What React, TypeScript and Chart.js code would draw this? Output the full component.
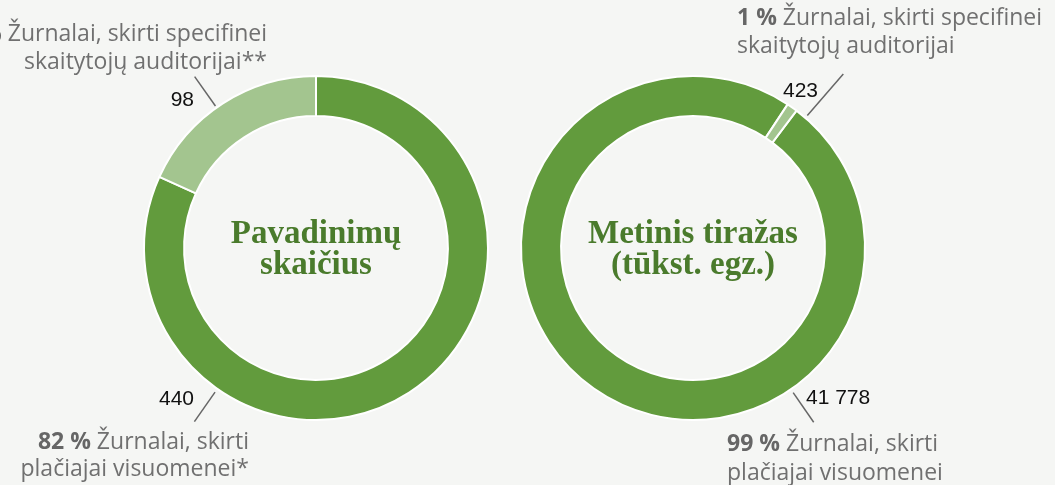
import React, { useEffect, useRef } from "react";
import { Chart, registerables } from "chart.js";

Chart.register(...registerables);

// ---- data ----
const categories = ["Žurnalai, skirti plačiajai visuomenei", "Žurnalai, skirti specifinei skaitytojų auditorijai"];
const titlesCount = [440, 98];
const circulation = [41778, 423];
const leftTitle = ["Pavadinimų", "skaičius"];
const rightTitle = ["Metinis tiražas", "(tūkst. egz.)"];
const leftLabels = [
  ["Žurnalai, skirti", "plačiajai visuomenei*"],
  ["Žurnalai, skirti specifinei", "skaitytojų auditorijai**"],
];
const rightLabels = [
  ["Žurnalai, skirti", "plačiajai visuomenei"],
  ["Žurnalai, skirti specifinei", "skaitytojų auditorijai"],
];

const colors = ["#629b3d", "#a3c58f"];
const BG = "#f5f6f4";
const LABEL_FONT = "'Open Sans'";
const LABEL_SIZE = 23;
const LABEL_COLOR = "#707070";

const fmt = (n: number) => String(n).replace(/\B(?=(\d{3})+(?!\d))/g, " ");

type Ann = {
  angle: number; r1: number; r2: number;
  val: { dx: number; dy: number; align: CanvasTextAlign };
  lab: { dx: number; dy: number; align: CanvasTextAlign; lh: number };
  lines: string[];
};

const annPlugin = {
  id: "annPlugin",
  afterDraw(chart: any, _args: any, opts: any) {
    const meta = chart.getDatasetMeta(0);
    const arc = meta.data[0];
    if (!arc) return;
    const { x: cx, y: cy, outerRadius } = arc.getProps(["x", "y", "outerRadius"], true);
    const ctx = chart.ctx as CanvasRenderingContext2D;
    const data: number[] = chart.data.datasets[0].data;
    const total = data.reduce((a, b) => a + b, 0);
    ctx.save();
    // title
    ctx.fillStyle = "#4a7b2c";
    ctx.font = "bold 33px 'Liberation Serif', serif";
    ctx.textAlign = "center";
    ctx.textBaseline = "alphabetic";
    (opts.title as string[]).forEach((t, i) => ctx.fillText(t, cx, cy - 5 + i * 31));

    (opts.anns as Ann[]).forEach((a, i) => {
      const th = (a.angle * Math.PI) / 180;
      const sx = Math.sin(th), sy = -Math.cos(th);
      const ro = outerRadius;
      ctx.strokeStyle = "#666666";
      ctx.lineWidth = 1.5;
      ctx.beginPath();
      ctx.moveTo(cx + sx * (ro + a.r1), cy + sy * (ro + a.r1));
      ctx.lineTo(cx + sx * (ro + a.r2), cy + sy * (ro + a.r2));
      ctx.stroke();
      // value
      ctx.fillStyle = "#111111";
      ctx.font = "21px 'Liberation Sans', Arial, sans-serif";
      ctx.textAlign = a.val.align;
      ctx.fillText(fmt(data[i]), cx + a.val.dx, cy + a.val.dy);
      // label
      const pct = Math.round((data[i] / total) * 100) + " % ";
      const boldFont = `bold ${LABEL_SIZE}px ${LABEL_FONT}, sans-serif`;
      const normFont = `${LABEL_SIZE}px ${LABEL_FONT}, sans-serif`;
      ctx.textAlign = "left";
      a.lines.forEach((line, li) => {
        const y = cy + a.lab.dy + li * a.lab.lh;
        ctx.font = boldFont;
        const bw = li === 0 ? ctx.measureText(pct).width : 0;
        ctx.font = normFont;
        const nw = ctx.measureText(line).width;
        let x = cx + a.lab.dx;
        if (a.lab.align === "right") x -= bw + nw;
        if (li === 0) {
          ctx.font = boldFont;
          ctx.fillStyle = "#666666";
          ctx.fillText(pct, x, y);
        }
        ctx.font = normFont;
        ctx.fillStyle = LABEL_COLOR;
        ctx.fillText(line, x + bw, y);
      });
    });
    ctx.restore();
  },
};

function Donut(props: { values: number[]; rotation: number; padding: any; width: number; title: string[]; anns: Ann[]; left: number }) {
  const ref = useRef<HTMLCanvasElement>(null);
  useEffect(() => {
    const chart = new Chart(ref.current as HTMLCanvasElement, {
      type: "doughnut",
      data: {
        labels: categories,
        datasets: [
          {
            data: props.values,
            backgroundColor: colors,
            borderColor: "#ffffff",
            borderWidth: 2,
            hoverOffset: 0,
          },
        ],
      },
      options: {
        responsive: false,
        animation: false,
        devicePixelRatio: 1,
        cutout: "76.7%",
        rotation: props.rotation,
        layout: { padding: props.padding },
        plugins: {
          legend: { display: false },
          tooltip: { enabled: false },
          annPlugin: { title: props.title, anns: props.anns },
        } as any,
      },
      plugins: [annPlugin],
    });
    return () => chart.destroy();
  }, []);
  return (
    <canvas
      ref={ref}
      width={props.width}
      height={485}
      style={{ position: "absolute", left: props.left, top: 0, width: props.width, height: 485 }}
    />
  );
}

export default function App() {
  const leftAnns: Ann[] = [
    { angle: 215, r1: 4, r2: 40, val: { dx: -122, dy: 157, align: "right" }, lab: { dx: -67, dy: 201, align: "right", lh: 27 }, lines: leftLabels[0] },
    { angle: -35.3, r1: 2, r2: 38, val: { dx: -122, dy: -142, align: "right" }, lab: { dx: -49, dy: -207, align: "right", lh: 28 }, lines: leftLabels[1] },
  ];
  const rightAnns: Ann[] = [
    { angle: 145.3, r1: 4, r2: 40, val: { dx: 113, dy: 156, align: "left" }, lab: { dx: 34, dy: 203, align: "left", lh: 29 }, lines: rightLabels[0] },
    { angle: 40.8, r1: 3, r2: 58, val: { dx: 125, dy: -151, align: "right" }, lab: { dx: 44, dy: -223, align: "left", lh: 28 }, lines: rightLabels[1] },
  ];
  return (
    <div style={{ position: "fixed", left: 0, top: 0, width: 1055, height: 485, background: BG, overflow: "hidden" }}>
      <Donut
        values={titlesCount}
        rotation={0}
        width={505}
        left={0}
        padding={{ left: 143, right: 16, top: 75, bottom: 64 }}
        title={leftTitle}
        anns={leftAnns}
      />
      <Donut
        values={circulation}
        rotation={37}
        width={550}
        left={505}
        padding={{ left: 15, right: 189, top: 75, bottom: 64 }}
        title={rightTitle}
        anns={rightAnns}
      />
    </div>
  );
}
